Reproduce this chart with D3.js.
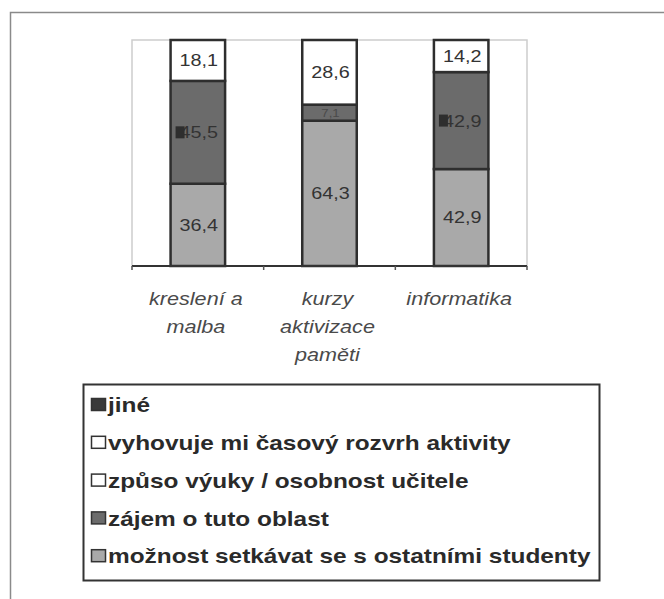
<!DOCTYPE html>
<html>
<head>
<meta charset="utf-8">
<script src="https://cdn.jsdelivr.net/npm/d3@7"></script>
<style>
  body { margin: 0; background: #fff; }
  svg { display: block; font-family: Arial, "Liberation Sans", sans-serif; }
</style>
</head>
<body>
<div id="chart"></div>
<script>
// categories along the x axis (each split over lines)
const categories = ["kreslení a malba", "kurzy aktivizace paměti", "informatika"];
const categoryLines = [["kreslení a", "malba"], ["kurzy", "aktivizace", "paměti"], ["informatika"]];

// series, bottom of the stack first
const seriesNames = [
  "možnost setkávat se s ostatními studenty",
  "zájem o tuto oblast",
  "způso výuky / osobnost učitele",
  "vyhovuje mi časový rozvrh aktivity",
  "jiné"
];
const setkavat = [36.4, 64.3, 42.9];
const zajem = [45.5, 7.1, 42.9];
const zpusob = [18.1, 28.6, 14.2];
const vyhovuje = [0, 0, 0];
const jine = [0, 0, 0];
const labels = ["36,4", "64,3", "42,9", "45,5", "7,1", "42,9", "18,1", "28,6", "14,2"];

const width = 664, height = 599;
const margin = {left: 132, right: 137, top: 40, bottom: 333};
const stretch = 1.2; // the scanned text is wider than it is tall

const svg = d3.select("#chart").append("svg")
    .attr("width", width)
    .attr("height", height);

// outer frame
svg.append("path")
    .attr("d", "M10.5,599 L10.5,12.5 L664,12.5")
    .attr("fill", "none")
    .attr("stroke", "#8a8a8a")
    .attr("stroke-width", 1.5);

const x = d3.scaleBand()
    .domain(categories)
    .range([margin.left, width - margin.right])
    .paddingInner(0.586)
    .paddingOuter(0.293);

const y = d3.scaleLinear()
    .domain([0, 100])
    .range([height - margin.bottom, margin.top]);

// plot area frame (light)
svg.append("rect")
    .attr("x", margin.left)
    .attr("y", margin.top)
    .attr("width", width - margin.left - margin.right)
    .attr("height", y(0) - margin.top)
    .attr("fill", "none")
    .attr("stroke", "#cdcdcd")
    .attr("stroke-width", 1.5);

const table = categories.map((c, i) => {
    const row = {cat: c};
    row[seriesNames[0]] = setkavat[i];
    row[seriesNames[1]] = zajem[i];
    row[seriesNames[2]] = zpusob[i];
    row[seriesNames[3]] = vyhovuje[i];
    row[seriesNames[4]] = jine[i];
    return row;
});

const stacked = d3.stack().keys(seriesNames)(table);

const fills = d3.scaleOrdinal()
    .domain(seriesNames)
    .range(["#a9a9a9", "#6b6b6b", "#ffffff", "#ffffff", "#3a3a3a"]);

const layer = svg.append("g").selectAll("g")
    .data(stacked)
    .join("g")
    .attr("fill", d => fills(d.key));

layer.selectAll("rect")
    .data(d => d.filter(s => s[1] - s[0] > 0))
    .join("rect")
    .attr("x", d => x(d.data.cat))
    .attr("y", d => y(d[1]))
    .attr("width", x.bandwidth())
    .attr("height", d => y(d[0]) - y(d[1]))
    .attr("stroke", "#2e2e2e")
    .attr("stroke-width", 2.5);

// value labels
const labelData = [];
stacked.slice(0, 3).forEach((s, si) => {
    s.forEach((d, ci) => {
        labelData.push({si: si, cat: d.data.cat, mid: (d[0] + d[1]) / 2, text: labels[si * 3 + ci]});
    });
});

svg.append("g").selectAll("text")
    .data(labelData)
    .join("text")
    .attr("transform", d => `translate(${x(d.cat) + x.bandwidth() / 2 + 1},${y(d.mid)}) scale(${stretch},1)`)
    .attr("dy", "0.36em")
    .attr("text-anchor", "middle")
    .attr("font-size", d => d.text == "7,1" ? 11 : 16.5)
    .attr("fill", d => d.text == "7,1" ? "#4a4a4a" : "#333")
    .text(d => d.text);

// small key squares that sit over the "zájem" labels
svg.append("g").selectAll("rect")
    .data(labelData.filter(d => d.si == 1 && d.text != "7,1"))
    .join("rect")
    .attr("x", d => x(d.cat) + 5)
    .attr("y", d => y(d.mid) - 6)
    .attr("width", 9)
    .attr("height", 12)
    .attr("fill", "#2e2e2e");

// x axis
const axis = svg.append("g")
    .attr("transform", `translate(0,${y(0)})`);
axis.append("line")
    .attr("x1", margin.left)
    .attr("x2", width - margin.right)
    .attr("stroke", "#333")
    .attr("stroke-width", 2);
axis.selectAll("line.tick")
    .data(d3.range(categories.length + 1))
    .join("line")
    .attr("class", "tick")
    .attr("x1", i => margin.left + i * (width - margin.left - margin.right) / categories.length)
    .attr("x2", i => margin.left + i * (width - margin.left - margin.right) / categories.length)
    .attr("y1", 0)
    .attr("y2", 4)
    .attr("stroke", "#555")
    .attr("stroke-width", 1.5);

// category labels
categories.forEach((c, i) => {
    svg.append("text")
        .attr("transform", `translate(${x(c) + x.bandwidth() / 2 - 2},305) scale(${stretch},1)`)
        .attr("text-anchor", "middle")
        .attr("font-size", 18)
        .attr("font-style", "italic")
        .attr("fill", "#4a4a4a")
        .selectAll("tspan")
        .data(categoryLines[i])
        .join("tspan")
        .attr("x", 0)
        .attr("dy", (d, j) => j == 0 ? 0 : 28)
        .text(d => d);
});

// legend
const legend = svg.append("g");
legend.append("rect")
    .attr("x", 83.5)
    .attr("y", 384.5)
    .attr("width", 516)
    .attr("height", 196)
    .attr("fill", "#fff")
    .attr("stroke", "#333")
    .attr("stroke-width", 2);

const legendOrder = seriesNames.slice().reverse();
const legendFills = ["#3a3a3a", "#ffffff", "#ffffff", "#6b6b6b", "#a9a9a9"];
const row = legend.selectAll("g.item")
    .data(legendOrder)
    .join("g")
    .attr("class", "item")
    .attr("transform", (d, i) => `translate(91,${405 + i * 37.8})`);

row.append("rect")
    .attr("x", 0.5)
    .attr("y", -6.5)
    .attr("width", 14)
    .attr("height", 12)
    .attr("fill", (d, i) => legendFills[i])
    .attr("stroke", "#333")
    .attr("stroke-width", 1.5);

row.append("text")
    .attr("transform", `translate(17,0) scale(1.22,1)`)
    .attr("dy", "0.36em")
    .attr("font-size", 20)
    .attr("font-weight", "bold")
    .attr("fill", "#2a2a2a")
    .text(d => d);
</script>
</body>
</html>
